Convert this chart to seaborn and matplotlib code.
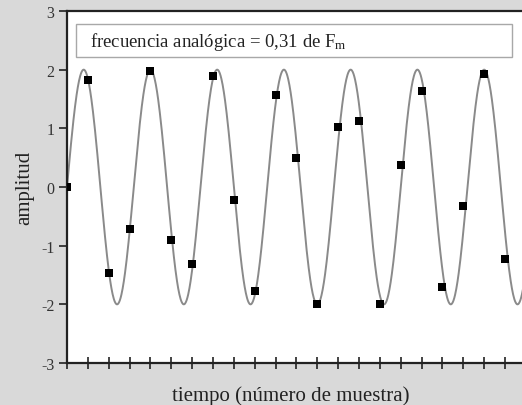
import numpy as np
import pandas as pd
import matplotlib
matplotlib.use("Agg")
import matplotlib.pyplot as plt
from matplotlib.patches import Rectangle
import seaborn as sns

# --- data ---
sample_n = list(range(22))
sample_amp = [0.0, 1.82, -1.47, -0.71, 1.98, -0.90, -1.32, 1.89, -0.22, -1.77,
              1.56, 0.49, -2.00, 1.03, 1.12, -1.99, 0.37, 1.63, -1.71, -0.33,
              1.92, -1.23]
analog_amplitude = 2.0
analog_freq = 0.3125          # cycles per sample (label says 0,31 de Fm)
y_ticks = [-3, -2, -1, 0, 1, 2, 3]
title_text = "frecuencia analógica = 0,31 de F$_{\\mathrm{m}}$"
x_label = "tiempo (número de muestra)"
y_label = "amplitud"

sns.set_style("ticks")
plt.rcParams["font.family"] = ["Liberation Serif", "DejaVu Serif"]
plt.rcParams["mathtext.fontset"] = "custom"
plt.rcParams["mathtext.rm"] = "Liberation Serif"
plt.rcParams["mathtext.it"] = "Liberation Serif:italic"

t = np.linspace(0, 23, 1200)
curve = pd.DataFrame({"n": t, "amp": analog_amplitude * np.sin(2 * np.pi * analog_freq * t)})
samples = pd.DataFrame({"n": sample_n, "amp": sample_amp})

fig = plt.figure(figsize=(5.22, 4.06), dpi=100, facecolor="#d9d9d9")
ax = fig.add_axes([67 / 522, 1 - 364 / 406, (540 - 67) / 522, 352 / 406])
ax.set_facecolor("white")

sns.lineplot(data=curve, x="n", y="amp", ax=ax, color="#8a8a8a", linewidth=1.4)
sns.scatterplot(data=samples, x="n", y="amp", ax=ax, marker="s", s=40,
                color="black", edgecolor="black", linewidth=0, zorder=5)

spacing = 438 / 21
ax.set_xlim(0, (540 - 67) / spacing)
ax.set_ylim(-3, 3)
ax.set_yticks(y_ticks)
ax.set_yticklabels([str(v) for v in y_ticks], fontsize=11.5, color="#333333")
ax.set_xticks(sample_n)
ax.set_xticklabels([])
ax.tick_params(axis="x", direction="inout", length=8, width=1.2, color="#222222")
ax.tick_params(axis="y", direction="out", length=6, width=1.2, color="#222222", pad=3)

for side in ["left", "bottom", "top"]:
    ax.spines[side].set_color("#222222")
    ax.spines[side].set_linewidth(1.6)
ax.spines["right"].set_visible(False)

ax.set_xlabel(x_label, fontsize=15, color="#222222")
ax.set_ylabel(y_label, fontsize=15, color="#222222")
ax.xaxis.set_label_coords((291 - 67) / 473, -(386 - 364) / 352)
ax.yaxis.set_label_coords(-(67 - 34) / 473, 0.5)

ax.add_patch(Rectangle((9 / 473, 1 - 46 / 352), (512 - 76) / 473, 33 / 352,
                       transform=ax.transAxes, facecolor="white",
                       edgecolor="#a8a8a8", linewidth=1.0, zorder=6))
ax.text((90 - 67) / 473, 1 - (42 - 12) / 352, title_text, transform=ax.transAxes,
        fontsize=13.5, color="#222222", va="center", ha="left", zorder=7)

fig.savefig("out.png", dpi=100, facecolor=fig.get_facecolor())
